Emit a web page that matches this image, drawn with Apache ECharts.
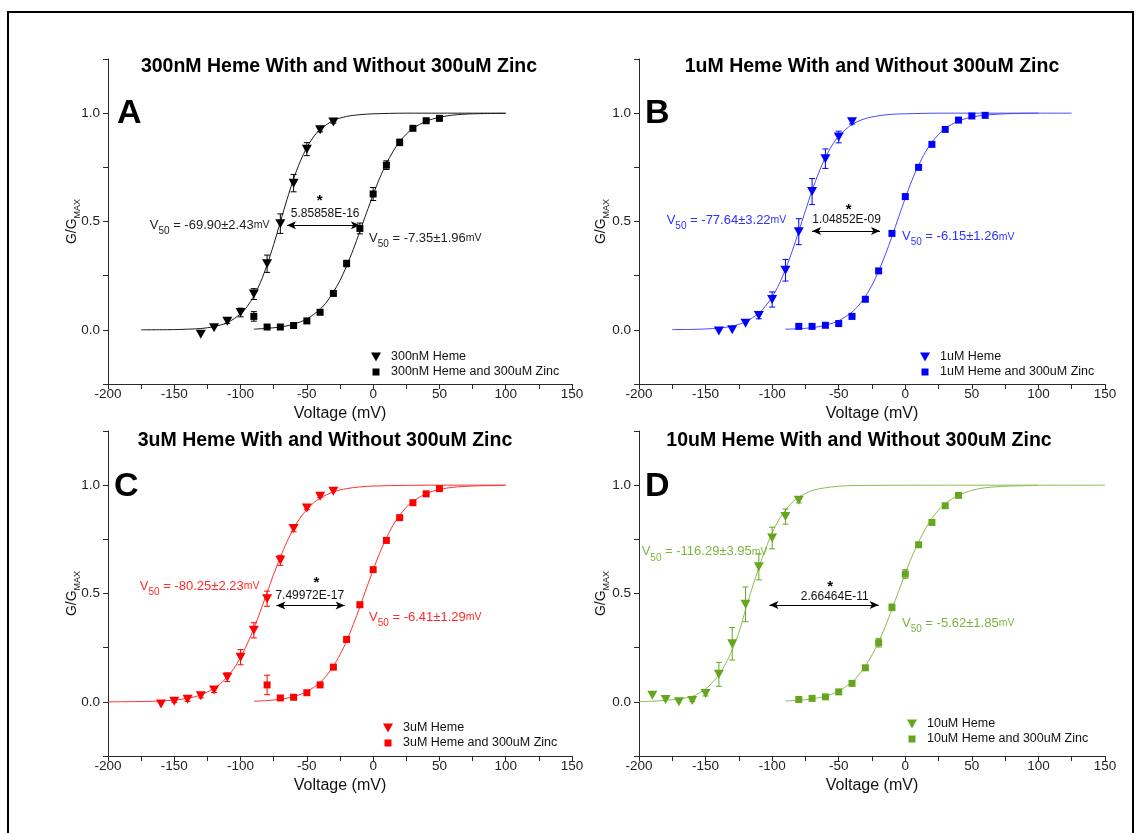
<!DOCTYPE html>
<html><head><meta charset="utf-8">
<script src="https://cdn.jsdelivr.net/npm/echarts@6/dist/echarts.min.js"></script>
<style>html,body{margin:0;padding:0;background:#fff}#c{width:1138px;height:833px}</style>
</head><body><div id="c"></div>
<script>
// ================= DATA =================
const panelTitles = ['300nM Heme With and Without 300uM Zinc','1uM Heme With and Without 300uM Zinc','3uM Heme With and Without 300uM Zinc','10uM Heme With and Without 300uM Zinc'];
const panelLetters = ['A','B','C','D'];
const triNames = ['300nM Heme','1uM Heme','3uM Heme','10uM Heme'];
const sqNames = ['300nM Heme and 300uM Zinc','1uM Heme and 300uM Zinc','3uM Heme and 300uM Zinc','10uM Heme and 300uM Zinc'];
const v50Tri = ['-69.90±2.43','-77.64±3.22','-80.25±2.23','-116.29±3.95'];
const v50Sq = ['-7.35±1.96','-6.15±1.26','-6.41±1.29','-5.62±1.85'];
const pValues = ['5.85858E-16','1.04852E-09','7.49972E-17','2.66464E-11'];
const xAxisName = 'Voltage (mV)';
const yAxisName = 'G/G{s|MAX}';

// Panel A (300nM)
const vA_tri = [-130,-120,-110,-100,-90,-80,-70,-60,-50,-40,-30];
const gA_tri = [-0.02,0.01,0.04,0.08,0.165,0.305,0.49,0.677,0.834,0.924,0.959];
const eA_tri = [0,0,0.01,0.02,0.025,0.04,0.045,0.04,0.03,0.01,0.005];
const vA_sq = [-90,-80,-70,-60,-50,-40,-30,-20,-10,0,10,20,30,40,50];
const gA_sq = [0.062,0.013,0.013,0.02,0.041,0.081,0.168,0.306,0.468,0.627,0.76,0.865,0.93,0.965,0.976];
const eA_sq = [0.022,0,0,0,0,0,0.005,0.015,0.025,0.03,0.02,0.015,0.005,0.005,0];
const fvA_tri = [-175,-150,-140,-130,-120,-110,-100,-95,-90,-85,-80,-75,-70,-65,-60,-55,-50,-45,-40,-30,-20,-10,0,25,50,75,100];
const fgA_tri = [0,0.001,0.003,0.006,0.015,0.033,0.074,0.108,0.156,0.219,0.30,0.394,0.498,0.601,0.697,0.777,0.842,0.89,0.925,0.966,0.985,0.993,0.997,1,1,1,1];
const fvA_sq = [-90,-80,-70,-60,-50,-40,-35,-30,-25,-20,-15,-10,-5,0,5,10,15,20,25,30,40,50,60,75,100];
const fgA_sq = [0.003,0.007,0.013,0.026,0.05,0.095,0.129,0.174,0.228,0.295,0.371,0.455,0.54,0.624,0.701,0.768,0.823,0.869,0.903,0.93,0.963,0.981,0.991,0.997,0.999];

// Panel B (1uM)
const vB_tri = [-140,-130,-120,-110,-100,-90,-80,-70,-60,-50,-40];
const gB_tri = [-0.005,0.0,0.03,0.066,0.14,0.275,0.453,0.638,0.79,0.89,0.96];
const eB_tri = [0,0,0,0.015,0.035,0.05,0.06,0.06,0.045,0.027,0.01];
const vB_sq = [-80,-70,-60,-50,-40,-30,-20,-10,0,10,20,30,40,50,60];
const gB_sq = [0.016,0.016,0.021,0.029,0.062,0.141,0.272,0.445,0.615,0.75,0.856,0.925,0.968,0.987,0.99];
const eB_sq = [0,0,0,0,0,0,0.005,0.01,0.01,0.005,0.005,0,0,0,0];
const fvB_tri = [-175,-160,-150,-140,-130,-120,-110,-105,-100,-95,-90,-85,-80,-75,-70,-65,-60,-55,-50,-40,-30,-20,-10,0,25,50,75,100];
const fgB_tri = [0.001,0.002,0.004,0.008,0.017,0.037,0.077,0.109,0.152,0.208,0.279,0.362,0.455,0.55,0.643,0.725,0.796,0.851,0.894,0.948,0.975,0.988,0.995,0.997,1,1,1,1];
const fvB_sq = [-90,-80,-70,-60,-50,-40,-35,-30,-25,-20,-15,-10,-5,0,5,10,15,20,25,30,40,50,60,75,100,125];
const fgB_sq = [0.003,0.005,0.01,0.021,0.042,0.082,0.113,0.154,0.206,0.271,0.347,0.431,0.52,0.608,0.69,0.76,0.819,0.866,0.902,0.93,0.964,0.982,0.991,0.997,1,1];

// Panel C (3uM)
const vC_tri = [-160,-150,-140,-130,-120,-110,-100,-90,-80,-70,-60,-50,-40,-30];
const gC_tri = [-0.01,0.003,0.012,0.028,0.055,0.114,0.206,0.33,0.476,0.653,0.80,0.895,0.949,0.972];
const eC_tri = [0,0.005,0.01,0.01,0.012,0.02,0.035,0.035,0.035,0.023,0.015,0.008,0.005,0];
const vC_sq = [-80,-70,-60,-50,-40,-30,-20,-10,0,10,20,30,40,50];
const gC_sq = [0.078,0.018,0.021,0.042,0.078,0.16,0.288,0.448,0.61,0.745,0.85,0.919,0.96,0.984];
const eC_sq = [0.045,0,0,0,0,0,0.01,0.012,0,0,0,0,0,0];
const fvC_tri = [-200,-180,-170,-160,-150,-140,-130,-120,-115,-110,-105,-100,-95,-90,-85,-80,-75,-70,-65,-60,-55,-50,-45,-40,-30,-20,-10,0,25,50,75,100];
const fgC_tri = [0,0.001,0.002,0.004,0.008,0.016,0.032,0.062,0.085,0.115,0.154,0.206,0.267,0.339,0.419,0.504,0.589,0.668,0.739,0.80,0.849,0.888,0.918,0.94,0.969,0.984,0.992,0.996,0.999,1,1,1];
const fvC_sq = [-90,-80,-70,-60,-50,-40,-35,-30,-25,-20,-15,-10,-5,0,5,10,15,20,25,30,40,50,60,75,100];
const fgC_sq = [0.003,0.006,0.012,0.024,0.047,0.089,0.122,0.164,0.218,0.281,0.357,0.438,0.525,0.608,0.688,0.756,0.815,0.861,0.898,0.925,0.961,0.98,0.99,0.996,0.999];

// Panel D (10uM)
const vD_tri = [-190,-180,-170,-160,-150,-140,-130,-120,-110,-100,-90,-80];
const gD_tri = [0.03,0.011,0.0,0.006,0.039,0.127,0.268,0.45,0.623,0.756,0.855,0.93];
const eD_tri = [0,0,0,0.005,0.012,0.055,0.075,0.08,0.06,0.05,0.035,0.012];
const vD_sq = [-80,-70,-60,-50,-40,-30,-20,-10,0,10,20,30,40];
const gD_sq = [0.011,0.016,0.023,0.046,0.085,0.157,0.273,0.436,0.59,0.725,0.828,0.905,0.953];
const eD_sq = [0,0,0,0,0,0,0.02,0.015,0.02,0,0,0,0];
const fvD_tri = [-200,-190,-180,-170,-160,-155,-150,-145,-140,-135,-130,-125,-120,-115,-110,-105,-100,-95,-90,-85,-80,-70,-60,-50,-40,-25,0,50,100,150];
const fgD_tri = [0.001,0.003,0.007,0.013,0.025,0.04,0.06,0.088,0.125,0.175,0.24,0.32,0.425,0.525,0.62,0.705,0.78,0.84,0.885,0.92,0.945,0.975,0.988,0.995,0.998,0.999,1,1,1,1];
const fvD_sq = [-90,-80,-70,-60,-50,-40,-35,-30,-25,-20,-15,-10,-5,0,5,10,15,20,25,30,40,50,60,75,100];
const fgD_sq = [0.004,0.007,0.014,0.026,0.049,0.092,0.124,0.165,0.216,0.277,0.348,0.428,0.51,0.592,0.67,0.739,0.797,0.847,0.885,0.915,0.954,0.976,0.988,0.995,0.999];

// ================= LAYOUT / STYLE =================
const FONT = '"Liberation Sans", Arial, Helvetica, sans-serif';
const grids = [
  {left:108, top:59, width:464, height:325},
  {left:639, top:59, width:466, height:325},
  {left:108, top:431, width:464, height:325},
  {left:639, top:431, width:466, height:325}
];
const colors = [
  {mark:'#000000', line:'#1a1a1a', text:'#222222'},
  {mark:'#0000ff', line:'#4848ff', text:'#3030ff'},
  {mark:'#ff0000', line:'#ff3030', text:'#ff2a2a'},
  {mark:'#66a61e', line:'#8abd50', text:'#7db53c'}
];
const titlePos = [[339,67],[872,67],[325,441],[859,441]];
const letterPos = [[117,114],[645,114],[114,487],[645,487]];
const legendPos = [[371,350],[920,350],[383,721],[907,717]];
const yNameGap = [26,28,26,28];
// annotation anchors in data coordinates
const annot = [
  {tri:[-168.5,0.483], sq:[-3.1,0.423], p:[-36.2,0.534], star:[-40.3,0.595], arrow:[-65,-10,0.483]},
  {tri:[-179.2,0.507], sq:[-2.5,0.43], p:[-44.1,0.507], star:[-42.6,0.556], arrow:[-70,-19,0.456]},
  {tri:[-176,0.534], sq:[-3.1,0.391], p:[-47.8,0.491], star:[-42.8,0.548], arrow:[-73,-21.5,0.445]},
  {tri:[-198,0.692], sq:[-2.5,0.363], p:[-53,0.487], star:[-56.4,0.53], arrow:[-102,-20,0.447]}
];

const panels = [
  {vt:vA_tri,gt:gA_tri,et:eA_tri,vs:vA_sq,gs:gA_sq,es:eA_sq,fvt:fvA_tri,fgt:fgA_tri,fvs:fvA_sq,fgs:fgA_sq},
  {vt:vB_tri,gt:gB_tri,et:eB_tri,vs:vB_sq,gs:gB_sq,es:eB_sq,fvt:fvB_tri,fgt:fgB_tri,fvs:fvB_sq,fgs:fgB_sq},
  {vt:vC_tri,gt:gC_tri,et:eC_tri,vs:vC_sq,gs:gC_sq,es:eC_sq,fvt:fvC_tri,fgt:fgC_tri,fvs:fvC_sq,fgs:fgC_sq},
  {vt:vD_tri,gt:gD_tri,et:eD_tri,vs:vD_sq,gs:gD_sq,es:eD_sq,fvt:fvD_tri,fgt:fgD_tri,fvs:fvD_sq,fgs:fgD_sq}
];

const TRI = 'path://M0,0L10,0L5,9Z';
const SQ_ICON = 'path://M0,0L0.01,0L0,0.01ZM10,9L9.99,9L10,8.99ZM1.5,1L8.5,1L8.5,8L1.5,8Z';
const zip = (a,b) => a.map((v,i)=>[v,b[i]]);
const zip3 = (a,b,c) => a.map((v,i)=>[v,b[i],c[i]]);

function errRender(params, api){
  const x = api.value(0), y = api.value(1), e = api.value(2);
  if (!e) return null;
  const t = api.coord([x, y+e]), b = api.coord([x, y-e]);
  const c = api.visual('color');
  const st = {stroke:c, lineWidth:1};
  return {type:'group', children:[
    {type:'line', shape:{x1:t[0],y1:t[1],x2:b[0],y2:b[1]}, style:st},
    {type:'line', shape:{x1:t[0]-3,y1:t[1],x2:t[0]+3,y2:t[1]}, style:st},
    {type:'line', shape:{x1:b[0]-3,y1:b[1],x2:b[0]+3,y2:b[1]}, style:st}
  ]};
}

const axisColor = '#2a2a2a';
const xAxes = grids.map((g,i)=>({
  type:'value', gridIndex:i, min:-200, max:150, interval:25,
  name:xAxisName, nameLocation:'middle', nameGap:22,
  nameTextStyle:{fontFamily:FONT, fontSize:16, color:'#111'},
  axisLine:{onZero:false, lineStyle:{color:axisColor, width:1}},
  axisTick:{length:5, lineStyle:{color:axisColor}},
  axisLabel:{margin:3, fontFamily:FONT, fontSize:13.5, color:'#222', formatter:v => (v % 50 === 0 ? String(v) : '')},
  splitLine:{show:false}
}));
const yAxes = grids.map((g,i)=>({
  type:'value', gridIndex:i, min:-0.25, max:1.25, interval:0.25,
  name:yAxisName, nameLocation:'middle', nameGap:yNameGap[i], nameRotate:90, nameMoveOverlap:false,
  nameTextStyle:{fontFamily:FONT, fontSize:14, color:'#111', lineHeight:20,
    rich:{s:{fontFamily:FONT, fontSize:9, color:'#111', lineHeight:9, verticalAlign:'bottom'}}},
  axisLine:{onZero:false, lineStyle:{color:axisColor, width:1}},
  axisTick:{length:5, lineStyle:{color:axisColor}},
  axisLabel:{margin:8, fontFamily:FONT, fontSize:13.5, color:'#222',
    formatter:v => {const r = Math.round(v*2); return (Math.abs(v*2-r)<1e-9 && v>=-1e-9 && v<=1+1e-9) ? v.toFixed(1) : '';}},
  splitLine:{show:false}
}));

const series = [];
panels.forEach((p,i)=>{
  const c = colors[i];
  const an = annot[i];
  series.push({type:'line', name:triNames[i]+' fit', xAxisIndex:i, yAxisIndex:i, data:zip(p.fvt,p.fgt),
    showSymbol:false, symbol:'none', smooth:0.3, lineStyle:{color:c.line, width:1}, silent:true, z:2,
    markLine:{silent:true, symbol:['arrow','arrow'], symbolSize:[6,9], animation:false,
      lineStyle:{color:'#000', width:1, type:'solid'}, label:{show:false},
      data:[[{coord:[an.arrow[0],an.arrow[2]]},{coord:[an.arrow[1],an.arrow[2]]}]]}});
  series.push({type:'line', name:sqNames[i]+' fit', xAxisIndex:i, yAxisIndex:i, data:zip(p.fvs,p.fgs),
    showSymbol:false, symbol:'none', smooth:0.3, lineStyle:{color:c.line, width:1}, silent:true, z:2});
  series.push({type:'custom', name:triNames[i]+' err', xAxisIndex:i, yAxisIndex:i, data:zip3(p.vt,p.gt,p.et),
    renderItem:errRender, itemStyle:{color:c.mark}, encode:{x:0,y:1}, silent:true, z:3});
  series.push({type:'custom', name:sqNames[i]+' err', xAxisIndex:i, yAxisIndex:i, data:zip3(p.vs,p.gs,p.es),
    renderItem:errRender, itemStyle:{color:c.mark}, encode:{x:0,y:1}, silent:true, z:3});
  series.push({type:'scatter', name:triNames[i], xAxisIndex:i, yAxisIndex:i, data:zip(p.vt,p.gt),
    symbol:TRI, symbolSize:[10,9], itemStyle:{color:c.mark, opacity:1}, z:4});
  series.push({type:'scatter', name:sqNames[i], xAxisIndex:i, yAxisIndex:i, data:zip(p.vs,p.gs),
    symbol:'rect', symbolSize:7, itemStyle:{color:c.mark, opacity:1}, z:4});
});

const legends = panels.map((p,i)=>({
  orient:'vertical', left:legendPos[i][0], top:legendPos[i][1], padding:0, itemWidth:10, itemHeight:9, itemGap:1,
  selectedMode:false,
  textStyle:{fontFamily:FONT, fontSize:12.5, color:'#111', lineHeight:14, padding:[0,0,0,5]},
  data:[{name:triNames[i], icon:TRI},{name:sqNames[i], icon:SQ_ICON}]
}));

const baseGraphic = [
  {type:'rect', silent:true, shape:{x:8,y:12,width:1125,height:840}, style:{fill:null, stroke:'#000', lineWidth:2}}
];
panelTitles.forEach((t,i)=>{
  baseGraphic.push({type:'text', silent:true, x:titlePos[i][0], y:titlePos[i][1],
    style:{text:t, font:'bold 19.5px '+FONT, fill:'#000', align:'center', verticalAlign:'middle'}});
  baseGraphic.push({type:'text', silent:true, x:letterPos[i][0], y:letterPos[i][1],
    style:{text:panelLetters[i], font:'bold 34px '+FONT, fill:'#000', align:'left', verticalAlign:'middle'}});
});

const chart = echarts.init(document.getElementById('c'));
chart.setOption({
  animation:false,
  backgroundColor:'#fff',
  grid:grids,
  xAxis:xAxes,
  yAxis:yAxes,
  legend:legends,
  series:series,
  graphic:baseGraphic
});

// annotations positioned through the axes
const annGraphic = baseGraphic.slice();
panels.forEach((p,i)=>{
  const c = colors[i];
  const an = annot[i];
  const px = pt => chart.convertToPixel({gridIndex:i}, pt);
  const rich = {
    m:{fontFamily:FONT, fontSize:13, fill:c.text, lineHeight:22},
    s:{fontFamily:FONT, fontSize:10, fill:c.text, lineHeight:10, verticalAlign:'bottom'},
    u:{fontFamily:FONT, fontSize:10.5, fill:c.text, lineHeight:12}
  };
  [[an.tri, v50Tri[i]],[an.sq, v50Sq[i]]].forEach(([pos,val])=>{
    const q = px(pos);
    annGraphic.push({type:'text', silent:true, x:q[0], y:q[1], z:10,
      style:{text:'{m|V}{s|50}{m| = '+val+'}{u|mV}', rich:rich, align:'left', verticalAlign:'middle'}});
  });
  const qp = px(an.p);
  annGraphic.push({type:'text', silent:true, x:qp[0], y:qp[1], z:10,
    style:{text:pValues[i], font:'12px '+FONT, fill:'#111', align:'center', verticalAlign:'middle'}});
  const qs = px(an.star);
  annGraphic.push({type:'text', silent:true, x:qs[0], y:qs[1], z:10,
    style:{text:'*', font:'bold 15px '+FONT, fill:'#000', align:'center', verticalAlign:'middle'}});
});
chart.setOption({graphic:annGraphic}, {replaceMerge:['graphic']});
</script>
</body></html>
